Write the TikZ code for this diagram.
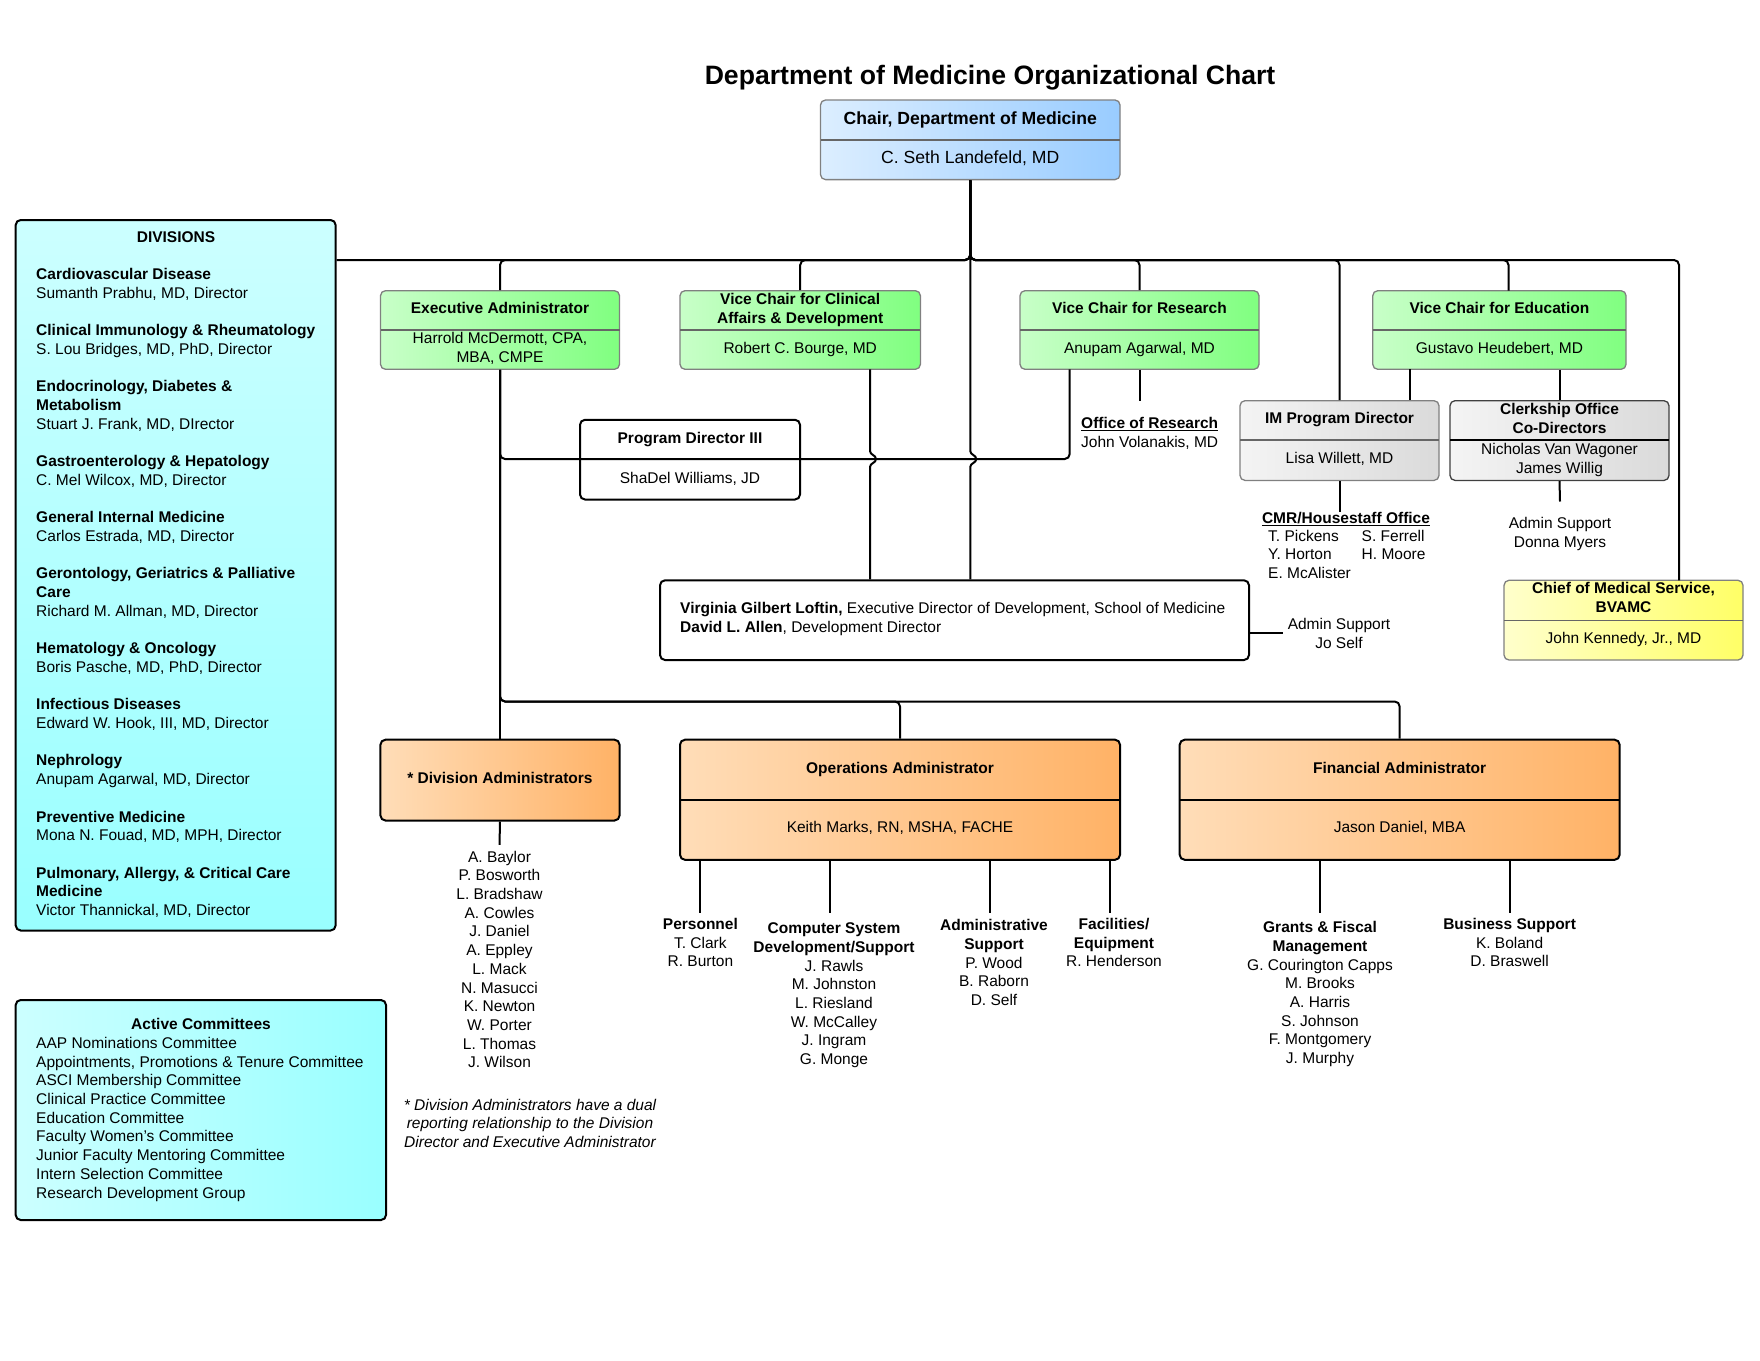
\documentclass[tikz,border=0pt]{standalone}
\usepackage{fontspec}
\setmainfont{Liberation Sans}
\newcommand{\ft}{\fontsize{15.5}{18.7}\selectfont}
\newcommand{\fth}{\fontsize{17.6}{21}\selectfont}
\newcommand{\st}{\rule{0pt}{12pt}}
\definecolor{blueL}{HTML}{DCEEFF}\definecolor{blueD}{HTML}{99CCFF}
\definecolor{greenL}{HTML}{C8FFC8}\definecolor{greenD}{HTML}{80FF80}
\definecolor{grayL}{HTML}{F4F4F4}\definecolor{grayD}{HTML}{DADADA}
\definecolor{yelL}{HTML}{FFFFCC}\definecolor{yelD}{HTML}{FFFF66}
\definecolor{oraL}{HTML}{FFDDB8}\definecolor{oraD}{HTML}{FFB266}
\definecolor{cyaL}{HTML}{CCFFFF}\definecolor{cyaD}{HTML}{99FFFF}
\tikzset{
 conn/.style={draw=black, line width=2pt, rounded corners=5pt},
 hopline/.style={draw=black, line width=2pt, sharp corners},
 gbox/.style={draw=black!50, line width=1.3pt, rounded corners=5pt, inner sep=0},
 bbox/.style={draw=black, line width=2pt, rounded corners=5pt, inner sep=0},
 gdiv/.style={draw=black!60, line width=1.2pt},
 bdiv/.style={draw=black, line width=2pt},
 txt/.style={inner sep=0, font=\ft, align=center, anchor=north},
 tbtxt/.style={txt, font=\ft\bfseries},
 titxt/.style={txt, font=\ft\itshape},
 ltxt/.style={inner sep=0, font=\ft, align=left, anchor=north west},
 btxt/.style={inner sep=0, font=\ft\bfseries, anchor=base},
 ntxt/.style={inner sep=0, font=\ft, anchor=base},
}
\begin{document}
\begin{tikzpicture}[x=1pt,y=-1pt]
\useasboundingbox (0,0) rectangle (1760,1360);
\fill[white] (0,0) rectangle (1760,1360);

% ---------- boxes ----------
\node[gbox, left color=blueL, right color=blueD, minimum width=299.5pt, minimum height=79.6pt] (chair) at (970.25,139.8) {};
\draw[gdiv] (820.5,140) -- (1120,140);

\node[bbox, top color=cyaL, bottom color=cyaD, minimum width=319.9pt, minimum height=710.5pt] (divbox) at (175.65,575.25) {};
\node[bbox, left color=cyaL, right color=cyaD, minimum width=370.3pt, minimum height=220pt] (commbox) at (200.85,1110) {};

\node[gbox, left color=greenL, right color=greenD, minimum width=239pt, minimum height=78.6pt] (exec) at (500,330) {};
\node[gbox, left color=greenL, right color=greenD, minimum width=240.4pt, minimum height=78.6pt] (vcclin) at (800.2,330) {};
\node[gbox, left color=greenL, right color=greenD, minimum width=239pt, minimum height=78.6pt] (vcres) at (1139.5,330) {};
\node[gbox, left color=greenL, right color=greenD, minimum width=253.3pt, minimum height=78.6pt] (vcedu) at (1499.4,330) {};
\draw[gdiv] (380.5,330) -- (619.5,330);
\draw[gdiv] (680,330) -- (920.4,330);
\draw[gdiv] (1020,330) -- (1259,330);
\draw[gdiv] (1372.7,330) -- (1626,330);

\node[bbox, fill=white, minimum width=220pt, minimum height=79.7pt] (pd3) at (690,459.65) {};

\node[gbox, left color=grayL, right color=grayD, minimum width=199pt, minimum height=79.7pt] (im) at (1339.5,440.55) {};
\node[gbox, draw=black!75, left color=grayL, right color=grayD, minimum width=219pt, minimum height=79.7pt] (clerk) at (1559.5,440.55) {};
\draw[gdiv] (1240,440) -- (1439,440);
\draw[bdiv, line width=1.4pt] (1450,440) -- (1669,440);

\node[bbox, fill=white, minimum width=589pt, minimum height=79.7pt] (virginia) at (954.5,620.15) {};

\node[gbox, left color=yelL, right color=yelD, minimum width=239pt, minimum height=79.7pt] (chief) at (1623.5,620.15) {};
\draw[gdiv] (1504,620.7) -- (1743,620.7);

\node[bbox, left color=oraL, right color=oraD, minimum width=239.1pt, minimum height=80.8pt] (divadm) at (500,780.1) {};
\node[bbox, left color=oraL, right color=oraD, minimum width=440pt, minimum height=120.1pt] (ops) at (900,799.75) {};
\node[bbox, left color=oraL, right color=oraD, minimum width=439.9pt, minimum height=120.1pt] (fin) at (1399.65,799.75) {};
\draw[bdiv] (680,800) -- (1120,800);
\draw[bdiv] (1179.7,800) -- (1619.6,800);

% ---------- texts ----------
\node[inner sep=0, font=\fontsize{26.6}{30}\selectfont\bfseries, anchor=base] (title) at (990,84.6) {Department of Medicine Organizational Chart};

\node[inner sep=0, font=\fth\bfseries, anchor=base] (chairT) at (970.25,124.3) {Chair, Department of Medicine};
\node[inner sep=0, font=\fth, anchor=base] (chairN) at (970.25,163.3) {C. Seth Landefeld, MD};

\node[btxt] (divT) at (176,242.5) {DIVISIONS};
\node[ltxt] (divlist) at (36,267.5) {\st\textbf{Cardiovascular Disease}\\Sumanth Prabhu, MD, Director\\[18.7pt]
\textbf{Clinical Immunology \& Rheumatology}\\S. Lou Bridges, MD, PhD, Director\\[18.7pt]
\textbf{Endocrinology, Diabetes \&}\\\textbf{Metabolism}\\Stuart J. Frank, MD, DIrector\\[18.7pt]
\textbf{Gastroenterology \& Hepatology}\\C. Mel Wilcox, MD, Director\\[18.7pt]
\textbf{General Internal Medicine}\\Carlos Estrada, MD, Director\\[18.7pt]
\textbf{Gerontology, Geriatrics \& Palliative}\\\textbf{Care}\\Richard M. Allman, MD, Director\\[18.7pt]
\textbf{Hematology \& Oncology}\\Boris Pasche, MD, PhD, Director\\[18.7pt]
\textbf{Infectious Diseases}\\Edward W. Hook, III, MD, Director\\[18.7pt]
\textbf{Nephrology}\\Anupam Agarwal, MD, Director\\[18.7pt]
\textbf{Preventive Medicine}\\Mona N. Fouad, MD, MPH, Director\\[18.7pt]
\textbf{Pulmonary, Allergy, \& Critical Care}\\\textbf{Medicine}\\Victor Thannickal, MD, Director};

\node[btxt] (commT) at (201,1029) {Active Committees};
\node[ltxt] (commlist) at (36,1036.2) {\st AAP Nominations Committee\\Appointments, Promotions \& Tenure Committee\\ASCI Membership Committee\\Clinical Practice Committee\\Education Committee\\Faculty Women's Committee\\Junior Faculty Mentoring Committee\\Intern Selection Committee\\Research Development Group};

\node[btxt] (execT) at (500,313) {Executive Administrator};
\node[txt] (execN) at (500,331.4) {\st Harrold McDermott, CPA,\\MBA, CMPE};
\node[tbtxt] (vcclinT) at (800.2,292.1) {\st Vice Chair for Clinical\\Affairs \& Development};
\node[ntxt] (vcclinN) at (800.2,353.5) {Robert C. Bourge, MD};
\node[btxt] (vcresT) at (1139.5,313) {Vice Chair for Research};
\node[ntxt] (vcresN) at (1139.5,353.5) {Anupam Agarwal, MD};
\node[btxt] (vceduT) at (1499.4,313) {Vice Chair for Education};
\node[ntxt] (vceduN) at (1499.4,353.5) {Gustavo Heudebert, MD};

\node[ltxt] (offres) at (1081,416.5) {\st\textbf{\underline{Office of Research}}\\John Volanakis, MD};

\node[btxt] (pd3T) at (690,443.2) {Program Director III};
\node[ntxt] (pd3N) at (690,483.5) {ShaDel Williams, JD};

\node[btxt] (imT) at (1339.5,423) {IM Program Director};
\node[ntxt] (imN) at (1339.5,463.5) {Lisa Willett, MD};
\node[tbtxt] (clerkT) at (1559.5,402.1) {\st Clerkship Office\\Co-Directors};
\node[txt] (clerkN) at (1559.5,442.5) {\st Nicholas Van Wagoner\\James Willig};

\node[btxt] (cmr) at (1346,523) {\underline{CMR/Housestaff Office}};
\node[ltxt] (cmr1) at (1268,528.9) {\st T. Pickens\\Y. Horton\\E. McAlister};
\node[ltxt] (cmr2) at (1361.5,528.9) {\st S. Ferrell\\H. Moore};
\node[txt] (donna) at (1560,516.5) {\st Admin Support\\Donna Myers};

\node[ltxt] (virgT) at (680,601.5) {\st\textbf{Virginia Gilbert Loftin,} Executive Director of Development, School of Medicine\\\textbf{David L. Allen}, Development Director};
\node[txt] (jo) at (1339,617.5) {\st Admin Support\\Jo Self};

\node[tbtxt] (chiefT) at (1623.5,581.5) {\st Chief of Medical Service,\\BVAMC};
\node[ntxt] (chiefN) at (1623.5,643) {John Kennedy, Jr., MD};

\node[btxt] (divadmT) at (500,783.5) {* Division Administrators};
\node[btxt] (opsT) at (900,773.2) {Operations Administrator};
\node[ntxt] (opsN) at (900,832.5) {Keith Marks, RN, MSHA, FACHE};
\node[btxt] (finT) at (1399.65,773.2) {Financial Administrator};
\node[ntxt] (finN) at (1399.65,832.5) {Jason Daniel, MBA};

\node[txt] (danames) at (499.5,849.9) {\st A. Baylor\\P. Bosworth\\L. Bradshaw\\A. Cowles\\J. Daniel\\A. Eppley\\L. Mack\\N. Masucci\\K. Newton\\W. Porter\\L. Thomas\\J. Wilson};
\node[titxt] (foot) at (530,1097.9) {\st * Division Administrators have a dual\\reporting relationship to the Division\\Director and Executive Administrator};

\node[txt] (pers) at (700.4,917.2) {\st\textbf{Personnel}\\T. Clark\\R. Burton};
\node[txt] (comp) at (834,921.5) {\st\textbf{Computer System}\\\textbf{Development/Support}\\J. Rawls\\M. Johnston\\L. Riesland\\W. McCalley\\J. Ingram\\G. Monge};
\node[txt] (adms) at (994,918.5) {\st\textbf{Administrative}\\\textbf{Support}\\P. Wood\\B. Raborn\\D. Self};
\node[txt] (facil) at (1114,917.2) {\st\textbf{Facilities/}\\\textbf{Equipment}\\R. Henderson};
\node[txt] (grants) at (1320,920.5) {\st\textbf{Grants \& Fiscal}\\\textbf{Management}\\G. Courington Capps\\M. Brooks\\A. Harris\\S. Johnson\\F. Montgomery\\J. Murphy};
\node[txt] (bus2) at (1509.6,917.2) {\st\textbf{Business Support}\\K. Boland\\D. Braswell};

% ---------- connectors ----------
\coordinate (bus) at (970.25,260);
\coordinate (vceduIn) at (1508.5,290.7);
\coordinate (chiefIn) at (1679,580.3);
\coordinate (vcclinB) at (870,369.3);
\coordinate (vcresB) at (1069.7,369.3);
\coordinate (vceduB) at (1409.8,369.3);
\coordinate (loopL) at (500,459);
\coordinate (loopR) at (1069.7,459);
\coordinate (obus) at (500,701.5);
\coordinate (subtop) at (0,912.5);
\coordinate (compL) at (829.5,859.8);
\coordinate (admsL) at (990,859.8);
\coordinate (facilL) at (1110,859.8);

\draw[conn] (chair.south) -- (bus) -- (divbox.east |- bus);
\draw[conn] (chair.south) -- (bus) -| (exec.north);
\draw[conn] (chair.south) -- (bus) -| (vcclin.north);
\draw[conn] (chair.south) -- (bus) -| (vcres.north);
\draw[conn] (chair.south) -- (bus) -| (im.north);
\draw[conn] (chair.south) -- (bus) -| (vceduIn);
\draw[conn] (chair.south) -- (bus) -| (chiefIn);
\draw[conn] (exec.south) -- (loopL) -- (loopR) -- (vcresB);
\draw[hopline] (chair.south) -- (970.25,451) .. controls (970.25,455) and (976.25,455) .. (976.25,459) .. controls (976.25,463) and (970.25,463) .. (970.25,467) -- (virginia.north -| bus);
\draw[hopline] (vcclinB) -- (870,451) .. controls (870,455) and (876,455) .. (876,459) .. controls (876,463) and (870,463) .. (870,467) -- (virginia.north -| vcclinB);
\draw[conn] (vcres.south) -- ++(0,31.4);
\draw[conn] (vceduB) -- (vceduB |- im.north);
\draw[conn] (clerk.north |- vcedu.south) -- (clerk.north);
\draw[conn] (im.south) -- (im.south |- cmr.north);
\draw[conn] (clerk.south) -- ([yshift=15pt]donna.north);
\draw[conn] (virginia.east |- jo.west) -- ([xshift=-5pt]jo.west);

\draw[conn] (exec.south) -- (divadm.north);
\draw[conn] (exec.south) -- (obus) -| (ops.north);
\draw[conn] (exec.south) -- (obus) -| (fin.north);
\draw[conn] (divadm.south) -- ([yshift=5pt]danames.north);

\draw[conn] (ops.south -| pers.north) -- (pers.north |- subtop);
\draw[conn] (compL) -- (compL |- subtop);
\draw[conn] (admsL) -- (admsL |- subtop);
\draw[conn] (facilL) -- (facilL |- subtop);
\draw[conn] (fin.south -| grants.north) -- (grants.north |- subtop);
\draw[conn] (fin.south -| bus2.north) -- (bus2.north |- subtop);
\end{tikzpicture}
\end{document}
